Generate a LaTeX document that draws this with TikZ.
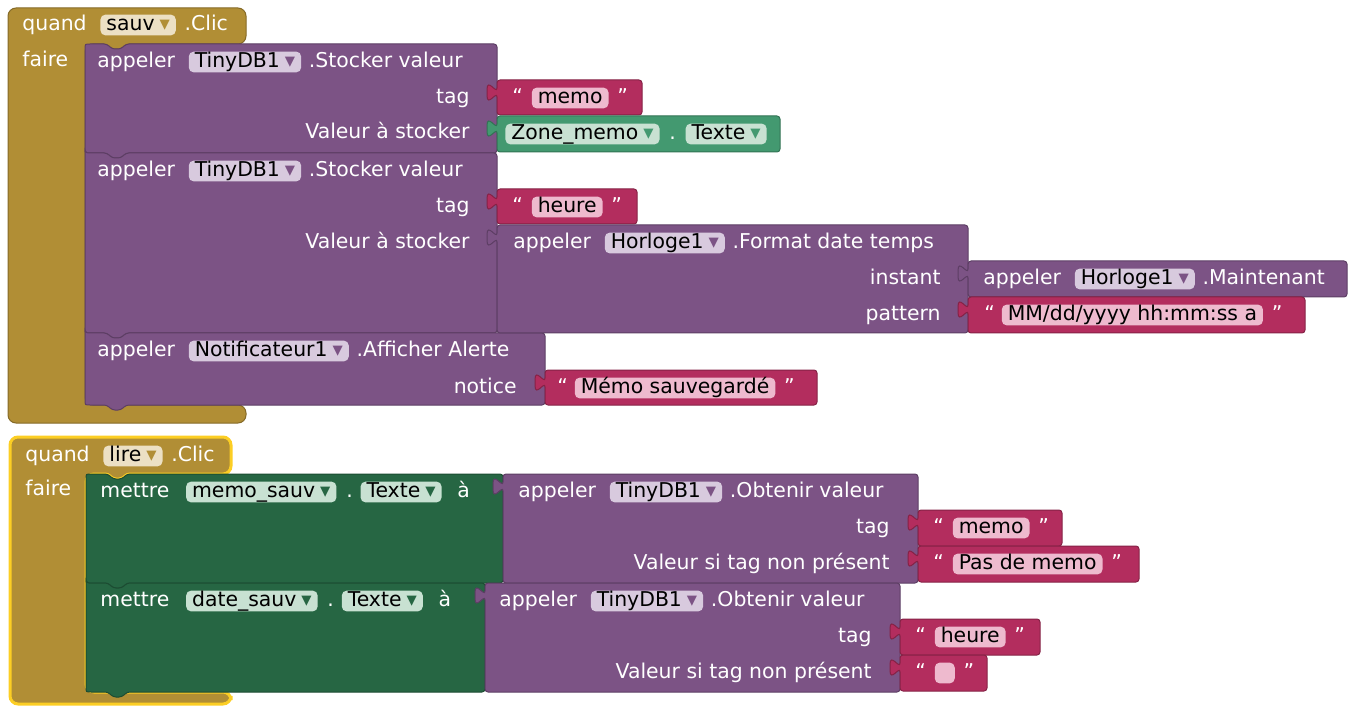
\documentclass[tikz,border=0pt]{standalone}
\usepackage{fontspec}
\setmainfont{DejaVu Sans}
\usetikzlibrary{positioning}
\definecolor{ctrlgold}{RGB}{177,142,53}
\definecolor{goldpill}{RGB}{236,224,196}
\definecolor{compurple}{RGB}{124,83,133}
\definecolor{purplepill}{RGB}{216,202,222}
\definecolor{txtred}{RGB}{179,45,94}
\definecolor{redpill}{RGB}{238,186,206}
\definecolor{getgreen}{RGB}{67,153,112}
\definecolor{setgreen}{RGB}{38,102,67}
\definecolor{greenpill}{RGB}{200,225,210}
\definecolor{selyellow}{RGB}{252,206,36}

% block outlines (coordinates in screen pixels)
\newcommand{\eventblock}[8]{%
  \filldraw[#1, rounded corners=4pt] (#2,#3) -- (#4,#3) -- (#4,#5)
    [rounded corners=1.5pt] -- (#6+41,#5) -- (#6+36,#5+5) -- (#6+27,#5+5) -- (#6+22,#5)
    [rounded corners=4pt] -- (#6,#5) -- (#6,#7) -- (#4,#7) -- (#4,#8) -- (#2,#8) -- cycle;}
% #6, #7: radius of the top-left and bottom-left corner
\newcommand{\stmtblock}[7]{%
  \filldraw[blk=#1] (#2+22,#3) -- (#2+27,#3+5) -- (#2+36,#3+5) -- (#2+41,#3)
    -- (#4,#3) -- (#4,#5) -- (#2+41,#5) -- (#2+36,#5+5) -- (#2+27,#5+5) -- (#2+22,#5)
    -- (#2+#7,#5) .. controls (#2,#5) .. (#2,#5-#7)
    -- (#2,#3+#6) .. controls (#2,#3) .. (#2+#6,#3) -- cycle;}
\newcommand{\valblock}[5]{%
  \filldraw[blk=#1] (#2,#3) -- (#4,#3) -- (#4,#5) -- (#2,#5) -- (#2,#3+20)
    .. controls (#2,#3+10) and (#2-10,#3+28) .. (#2-10,#3+12.5)
    .. controls (#2-10,#3-3) and (#2,#3+15) .. (#2,#3+5) -- cycle;}
\newcommand{\dd}[1]{\hspace{2.5pt}\textcolor{#1}{▾}\hspace{1.5pt}}

\begin{document}
\begin{tikzpicture}[x=0.5pt, y=-0.5pt,
  font=\fontsize{10.2}{12}\selectfont,
  blk/.style={fill=#1, draw=#1!75!black, line width=0.5pt, rounded corners=1.5pt},
  lbl/.style={text=white, inner sep=0pt, text height=7.6pt, text depth=2.2pt},
  pill/.style={fill=#1, text=black, rounded corners=2.5pt, inner xsep=3pt,
    inner ysep=0.3pt, text height=7.6pt, text depth=2.2pt}
]
\useasboundingbox (0,0) rectangle (1357,706);

% quand sauv.Clic
\eventblock{blk=ctrlgold}{8}{8}{246}{44}{85}{405}{423}
\stmtblock{compurple}{85}{44}{497}{153}{8}{0}
\stmtblock{compurple}{85}{153}{497}{333}{0}{0}
\stmtblock{compurple}{85}{333}{545}{405}{0}{8}
\valblock{txtred}{497}{80}{642}{115}
\valblock{getgreen}{497}{116}{780}{152}
\valblock{txtred}{497}{189}{637}{224}
\valblock{compurple}{497}{225}{968}{333}
\valblock{compurple}{968}{261}{1347}{297}
\valblock{txtred}{968}{297}{1305}{333}
\valblock{txtred}{545}{370}{817}{405}

\node[lbl, anchor=west] (q1) at (22,25) {quand};
\node[pill=goldpill, right=6.5pt of q1] (sauv) {sauv\dd{ctrlgold}};
\node[lbl, right=4pt of sauv] (clic1) {.Clic};
\node[lbl, anchor=west] (faire1) at (22,61) {faire};

\node[lbl, anchor=west] (ap1) at (97,62) {appeler};
\node[pill=purplepill, right=6.5pt of ap1] (db1) {TinyDB1\dd{compurple}};
\node[lbl, right=3.5pt of db1] (st1) {.Stocker valeur};
\node[lbl, anchor=east] (tag1) at (470,98) {tag};
\node[lbl, anchor=east] (val1) at (470,133) {Valeur à stocker};
\node[lbl, anchor=west] (ql1) at (512,98) {“};
\node[pill=redpill, right=4pt of ql1] (memo1) {memo};
\node[lbl, right=4pt of memo1] (qr1) {”};
\node[pill=greenpill, anchor=west] (zone) at (505,134) {Zone\_memo\dd{getgreen}};
\node[lbl, right=4.5pt of zone] (dot1) {.};
\node[pill=greenpill, right=4.5pt of dot1] (texte1) {Texte\dd{getgreen}};

\node[lbl, anchor=west] (ap2) at (97,171) {appeler};
\node[pill=purplepill, right=6.5pt of ap2] (db2) {TinyDB1\dd{compurple}};
\node[lbl, right=3.5pt of db2] (st2) {.Stocker valeur};
\node[lbl, anchor=east] (tag2) at (470,207) {tag};
\node[lbl, anchor=east] (val2) at (470,243) {Valeur à stocker};
\node[lbl, anchor=west] (ql2) at (512,207) {“};
\node[pill=redpill, right=4pt of ql2] (heure1) {heure};
\node[lbl, right=4pt of heure1] (qr2) {”};

\node[lbl, anchor=west] (ap3) at (513,243) {appeler};
\node[pill=purplepill, right=6.5pt of ap3] (hor1) {Horloge1\dd{compurple}};
\node[lbl, right=3.5pt of hor1] (fmt) {.Format date temps};
\node[lbl, anchor=east] (inst) at (941,279) {instant};
\node[lbl, anchor=east] (patt) at (941,315) {pattern};
\node[lbl, anchor=west] (ap4) at (983,279) {appeler};
\node[pill=purplepill, right=6.5pt of ap4] (hor2) {Horloge1\dd{compurple}};
\node[lbl, right=3.5pt of hor2] (maint) {.Maintenant};
\node[lbl, anchor=west] (ql3) at (984,315) {“};
\node[pill=redpill, right=3pt of ql3] (mask) {MM/dd/yyyy hh:mm:ss a\hspace{7pt}};
\node[lbl, right=4pt of mask] (qr3) {”};

\node[lbl, anchor=west] (ap5) at (97,351) {appeler};
\node[pill=purplepill, right=6.5pt of ap5] (notif) {Notificateur1\dd{compurple}};
\node[lbl, right=3.5pt of notif] (alert) {.Afficher Alerte};
\node[lbl, anchor=east] (notice) at (517,388) {notice};
\node[lbl, anchor=west] (ql4) at (557,388) {“};
\node[pill=redpill, right=3pt of ql4] (msg) {Mémo sauvegardé};
\node[lbl, right=4pt of msg] (qr4) {”};

% quand lire.Clic
\eventblock{blk=ctrlgold, draw=selyellow, line width=1.5pt}{10}{437}{231}{474}{86}{692}{704}
\stmtblock{setgreen}{86}{474}{503}{583}{8}{0}
\stmtblock{setgreen}{86}{583}{485}{692}{0}{8}
\valblock{compurple}{503}{474}{918}{583}
\valblock{compurple}{485}{583}{900}{692}
\valblock{txtred}{918}{510}{1062}{546}
\valblock{txtred}{918}{546}{1139}{582}
\valblock{txtred}{900}{619}{1040}{655}
\valblock{txtred}{900}{655}{987}{691}

\node[lbl, anchor=west] (q2) at (25,456) {quand};
\node[pill=goldpill, right=6.5pt of q2] (lire) {lire\dd{ctrlgold}};
\node[lbl, right=4pt of lire] (clic2) {.Clic};
\node[lbl, anchor=west] (faire2) at (25,490) {faire};

\node[lbl, anchor=west] (set1) at (100,492) {mettre};
\node[pill=greenpill, right=8pt of set1] (msauv) {memo\_sauv\dd{setgreen}};
\node[lbl, right=4.5pt of msauv] (dot2) {.};
\node[pill=greenpill, right=3.5pt of dot2] (texte2) {Texte\dd{setgreen}};
\node[lbl, right=7.5pt of texte2] (a1) {à};
\node[lbl, anchor=west] (ap6) at (518,492) {appeler};
\node[pill=purplepill, right=6.5pt of ap6] (db3) {TinyDB1\dd{compurple}};
\node[lbl, right=3.5pt of db3] (get1) {.Obtenir valeur};
\node[lbl, anchor=east] (tag3) at (890,528) {tag};
\node[lbl, anchor=east] (vsi1) at (890,564) {Valeur si tag non présent};
\node[lbl, anchor=west] (ql5) at (933,528) {“};
\node[pill=redpill, right=4pt of ql5] (memo2) {memo};
\node[lbl, right=4pt of memo2] (qr5) {”};
\node[lbl, anchor=west] (ql6) at (933,564) {“};
\node[pill=redpill, right=4pt of ql6] (pasmemo) {Pas de memo};
\node[lbl, right=4pt of pasmemo] (qr6) {”};

\node[lbl, anchor=west] (set2) at (100,601) {mettre};
\node[pill=greenpill, right=8pt of set2] (dsauv) {date\_sauv\dd{setgreen}};
\node[lbl, right=4.5pt of dsauv] (dot3) {.};
\node[pill=greenpill, right=3.5pt of dot3] (texte3) {Texte\dd{setgreen}};
\node[lbl, right=7.5pt of texte3] (a2) {à};
\node[lbl, anchor=west] (ap7) at (499,601) {appeler};
\node[pill=purplepill, right=6.5pt of ap7] (db4) {TinyDB1\dd{compurple}};
\node[lbl, right=3.5pt of db4] (get2) {.Obtenir valeur};
\node[lbl, anchor=east] (tag4) at (872,637) {tag};
\node[lbl, anchor=east] (vsi2) at (872,673) {Valeur si tag non présent};
\node[lbl, anchor=west] (ql7) at (915,637) {“};
\node[pill=redpill, right=4pt of ql7] (heure2) {heure};
\node[lbl, right=4pt of heure2] (qr7) {”};
\node[lbl, anchor=west] (ql8) at (915,673) {“};
\node[pill=redpill, minimum width=10pt, right=4pt of ql8] (vide) {};
\node[lbl, right=4pt of vide] (qr8) {”};
\end{tikzpicture}
\end{document}
